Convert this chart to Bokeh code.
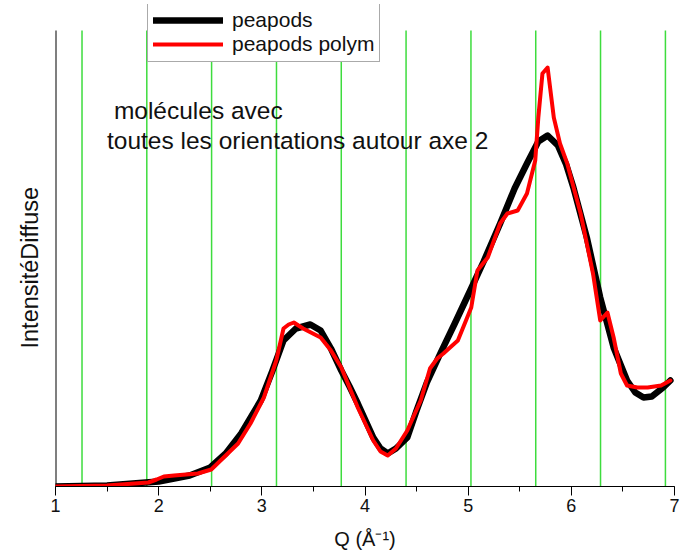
from bokeh.plotting import figure
from bokeh.models import Range1d, Label, Legend, LegendItem, SingleIntervalTicker, Title
from bokeh.embed import file_html
from bokeh.resources import INLINE

# ---- data ----
q_black = [1.0, 1.5, 2.0, 2.3, 2.5, 2.65, 2.8, 2.99, 3.1, 3.21, 3.33, 3.47, 3.57, 3.67, 3.77, 3.85,
           3.93, 4.08, 4.15, 4.22, 4.3, 4.41, 4.5, 4.6, 4.73, 4.87, 5.02, 5.15, 5.31, 5.45, 5.57,
           5.68, 5.77, 5.87, 5.95, 6.02, 6.15, 6.28, 6.41, 6.54, 6.62, 6.70, 6.78, 6.89, 6.96]
i_black = [0, 1, 5, 11, 19, 33, 53, 86, 115, 146, 158, 162, 156, 138, 116, 100,
           83, 49, 38, 33, 38, 49, 76, 104, 133, 163, 196, 225, 263, 298, 323,
           345, 351, 341, 322, 299, 249, 189, 139, 106, 94, 89, 90, 99, 106]

q_red = [1.0, 1.5, 1.9, 1.98, 2.05, 2.15, 2.38, 2.51, 2.6, 2.77, 2.89, 3.02, 3.14, 3.21, 3.26, 3.31,
         3.4, 3.57, 3.67, 3.77, 3.93, 4.08, 4.15, 4.22, 4.3, 4.41, 4.54, 4.63, 4.7, 4.76, 4.9,
         5.03, 5.09, 5.19, 5.31, 5.38, 5.48, 5.57, 5.65, 5.68, 5.72, 5.77, 5.83, 5.89, 5.96,
         6.09, 6.21, 6.28, 6.35, 6.41, 6.48, 6.54, 6.64, 6.74, 6.87, 6.96]
i_red = [0, 1, 4, 7, 10, 11, 13, 17, 26, 43, 63, 89, 126, 158, 162, 164,
         158, 149, 136, 119, 79, 46, 35, 31, 38, 56, 86, 118, 128, 133, 146,
         179, 216, 229, 263, 273, 276, 293, 326, 369, 413, 419, 369, 343, 323,
         273, 213, 166, 174, 149, 113, 101, 99, 99, 101, 106]

green_q = [1.257, 1.885, 2.513, 3.142, 3.770, 4.398, 5.027, 5.655, 6.283, 6.912]
series_names = ["peapods", "peapods polym"]
note_lines = ["molécules avec", "toutes les orientations autour axe 2"]

Y_MIN, Y_AXIS_TOP, Y_MAX = 0, 456, 482   # axis box top sits below the legend area
X_MIN, X_MAX = 1, 7

FONT = "Liberation Sans"

p = figure(width=694, height=556, output_backend="svg", toolbar_location=None,
           x_range=Range1d(X_MIN, X_MAX), y_range=Range1d(Y_MIN, Y_MAX),
           min_border_left=55, min_border_right=20, min_border_top=4, min_border_bottom=70)
p.outline_line_color = None
p.grid.visible = False
p.background_fill_color = "white"
p.border_fill_color = "white"

# green reference lines and the left axis line, from the bottom to the axis-box top
p.segment(x0=green_q, y0=[Y_MIN] * len(green_q), x1=green_q, y1=[Y_AXIS_TOP] * len(green_q),
          line_color="#3ddc3d", line_width=1.5)
p.segment(x0=[X_MIN], y0=[Y_MIN], x1=[X_MIN], y1=[Y_AXIS_TOP], line_color="black", line_width=2)

rb = p.line(q_black, i_black, line_color="black", line_width=6.5, line_join="round", line_cap="round")
rr = p.line(q_red, i_red, line_color="#ff0000", line_width=4, line_join="round", line_cap="round")

# x axis
xa = p.xaxis[0]
xa.ticker = SingleIntervalTicker(interval=1, num_minor_ticks=2)
xa.major_tick_out = 9
xa.major_tick_in = 0
xa.minor_tick_out = 5
xa.minor_tick_in = 0
xa.axis_line_color = "black"
xa.major_tick_line_color = "black"
xa.minor_tick_line_color = "black"
xa.major_label_text_font = FONT
xa.major_label_text_font_size = "18px"
xa.major_label_text_color = "#111111"
xa.major_label_standoff = 3
xa.axis_label = "Q (Å⁻¹)"
xa.axis_label_text_font = FONT
xa.axis_label_text_font_size = "20px"
xa.axis_label_text_font_style = "normal"
xa.axis_label_text_color = "#111111"
xa.axis_label_standoff = 13

# y axis: no ticks; label as a side title so it can be shifted down
p.yaxis.visible = False
p.add_layout(Title(text="IntensitéDiffuse", align="left", offset=138, standoff=26,
                   text_font=FONT, text_font_size="23.5px", text_font_style="normal",
                   text_color="#111111"), "left")

# annotation text
p.add_layout(Label(x=1.566, y=376, text=note_lines[0], text_font=FONT, text_font_size="24.5px",
                   text_color="#111111", text_baseline="alphabetic"))
p.add_layout(Label(x=1.499, y=346, text=note_lines[1], text_font=FONT, text_font_size="24.5px",
                   text_color="#111111", text_baseline="alphabetic"))

legend = Legend(items=[LegendItem(label=series_names[0], renderers=[rb]),
                       LegendItem(label=series_names[1], renderers=[rr])],
                location=(92, 424), border_line_color="#555555", border_line_width=1,
                background_fill_color="white", background_fill_alpha=1,
                label_text_font=FONT, label_text_font_size="21px", label_text_color="#111111",
                glyph_width=70, glyph_height=24, label_height=20, padding=5, spacing=0,
                label_standoff=9, margin=0)
p.add_layout(legend, "center")

open("out.html", "w").write(file_html(p, INLINE))
